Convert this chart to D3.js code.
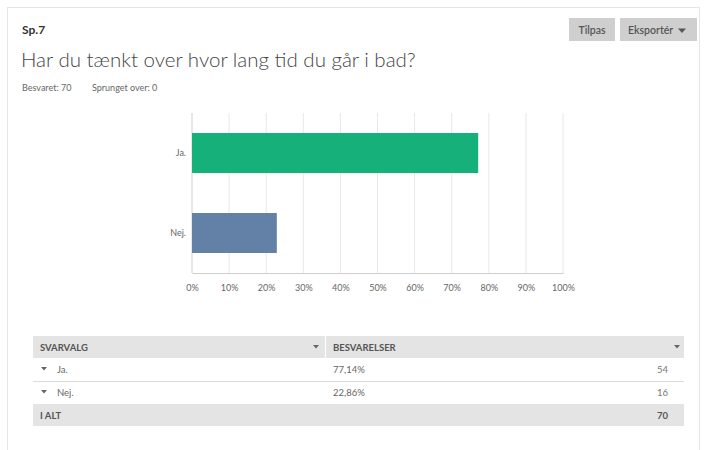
<!DOCTYPE html>
<html><head><meta charset="utf-8">
<script src="https://cdn.jsdelivr.net/npm/d3@7"></script>
<style>
body{margin:0;background:#fff;}
svg{display:block;font-family:Lato,"Open Sans",sans-serif;}
</style></head>
<body><svg id="c" width="707" height="450"></svg>
<script>
const categories = ["Ja.", "Nej."];
const percents = [77.14, 22.86];
const counts = [54, 16];
const percentLabels = ["77,14%", "22,86%"];
const total = 70;
const skipped = 0;
const xTicks = [0, 10, 20, 30, 40, 50, 60, 70, 80, 90, 100];
const colors = ["#16b07a", "#6380a6"];

const svg = d3.select("#c");
// card
svg.append("rect").attr("x",7.5).attr("y",7.5).attr("width",692).attr("height",460)
  .attr("fill","#fff").attr("stroke","#e6e6e6");

svg.append("text").attr("x",22).attr("y",34).attr("font-size",12).attr("font-weight",700)
  .attr("fill","#333").text("Sp.7");
svg.append("text").attr("x",21).attr("y",67).attr("font-size",20.5).attr("font-weight",300)
  .attr("fill","#444").text("Har du tænkt over hvor lang tid du går i bad?");
svg.append("text").attr("x",22).attr("y",91).attr("font-size",9).attr("fill","#666")
  .text("Besvaret: " + total);
svg.append("text").attr("x",92).attr("y",91).attr("font-size",9).attr("fill","#666")
  .text("Sprunget over: " + skipped);

// buttons
const btns = [{t:"Tilpas",x:569,w:46},{t:"Eksportér",x:620,w:77}];
btns.forEach((b,i)=>{
  svg.append("rect").attr("x",b.x).attr("y",18).attr("width",b.w).attr("height",23).attr("fill","#cfcfcf");
  svg.append("text").attr("x",i==0?b.x+b.w/2:b.x+8).attr("y",33.5).attr("font-size",10.5)
    .attr("text-anchor",i==0?"middle":"start").attr("fill","#555").attr("font-weight",600).text(b.t);
});
svg.append("path").attr("d","M678,28.5 L686,28.5 L682,33 Z").attr("fill","#555");

// chart
const x = d3.scaleLinear().domain([0,100]).range([192,563]);
const y = d3.scaleBand().domain(categories).range([113,273]).paddingInner(0.5).paddingOuter(0.25);

svg.append("g").selectAll("line").data(xTicks).join("line")
  .attr("x1",d=>x(d)).attr("x2",d=>x(d)).attr("y1",113).attr("y2",273)
  .attr("stroke",d=>d===0?"#cfcfcf":"#e8e8e8");

svg.selectAll("rect.bar").data(categories).join("rect").attr("class","bar")
  .attr("x",x(0)).attr("y",d=>y(d)).attr("width",(d,i)=>x(percents[i])-x(0))
  .attr("height",y.bandwidth()).attr("fill",(d,i)=>colors[i]);

const xa = svg.append("g").attr("transform","translate(0,273)")
  .call(d3.axisBottom(x).tickValues(xTicks).tickFormat(d=>d+"%").tickSize(0).tickPadding(12));
xa.select(".domain").attr("stroke","#cfcfcf");
xa.selectAll("text").attr("font-size",9).attr("fill","#666").attr("font-family","Lato,sans-serif");
const ya = svg.append("g").attr("transform","translate(192,0)")
  .call(d3.axisLeft(y).tickSize(0).tickPadding(6));
ya.select(".domain").remove();
ya.selectAll("text").attr("font-size",9).attr("fill","#666").attr("font-family","Lato,sans-serif");

// table
const tx = 33, tw = 651;
svg.append("rect").attr("x",tx).attr("y",336).attr("width",292).attr("height",22).attr("fill","#e4e4e4");
svg.append("rect").attr("x",326).attr("y",336).attr("width",358).attr("height",22).attr("fill","#e4e4e4");
svg.append("text").attr("x",40).attr("y",350.5).attr("font-size",9.5).attr("font-weight",700).attr("fill","#555").text("SVARVALG");
svg.append("text").attr("x",333).attr("y",350.5).attr("font-size",9.5).attr("font-weight",700).attr("fill","#555").text("BESVARELSER");
[[313,347],[674,347]].forEach(p=>svg.append("path").attr("d",`M${p[0]},${p[1]-2} L${p[0]+6},${p[1]-2} L${p[0]+3},${p[1]+1.5} Z`).attr("fill","#666"));

const rowY = [370, 393];
categories.forEach((c,i)=>{
  const yy = rowY[i];
  svg.append("path").attr("d",`M41,${yy-3} L47,${yy-3} L44,${yy+0.5} Z`).attr("fill","#666");
  svg.append("text").attr("x",57).attr("y",yy+3).attr("font-size",9.5).attr("fill","#666").text(c);
  svg.append("text").attr("x",333).attr("y",yy+3).attr("font-size",9.5).attr("fill","#666").text(percentLabels[i]);
  svg.append("text").attr("x",668).attr("y",yy+3).attr("text-anchor","end").attr("font-size",9.5).attr("fill","#777").text(counts[i]);
});
svg.append("line").attr("x1",tx).attr("x2",tx+tw).attr("y1",381.5).attr("y2",381.5).attr("stroke","#dcdcdc");
svg.append("rect").attr("x",tx).attr("y",404).attr("width",tw).attr("height",22).attr("fill","#e4e4e4");
svg.append("text").attr("x",40).attr("y",418.5).attr("font-size",9.5).attr("font-weight",700).attr("fill","#555").text("I ALT");
svg.append("text").attr("x",668).attr("y",418.5).attr("text-anchor","end").attr("font-size",9.5).attr("font-weight",700).attr("fill","#555").text(total);
</script></body></html>
